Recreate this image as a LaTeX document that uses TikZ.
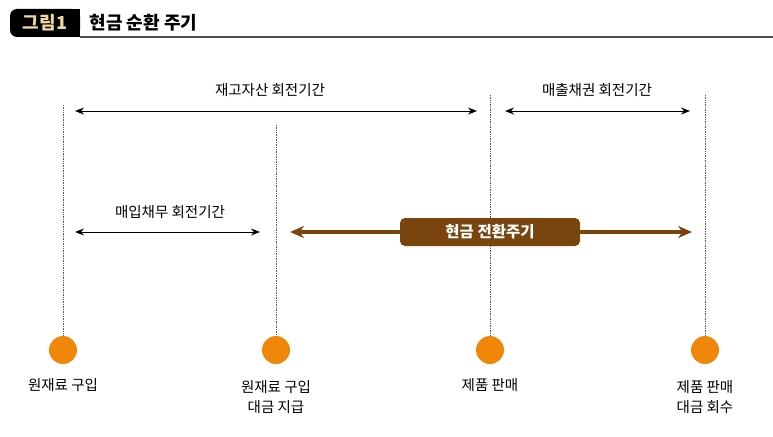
\documentclass[tikz,border=0pt]{standalone}
\usepackage{fontspec}
\setmainfont{Noto Sans CJK KR}
\usetikzlibrary{arrows.meta}
\definecolor{brn}{RGB}{122,68,14}
\definecolor{org}{RGB}{240,135,10}
\definecolor{tan}{RGB}{238,214,160}
\tikzset{vl/.style={densely dotted,gray!70!black,line width=0.7pt},
 ar/.style={{Stealth[length=9pt,width=7pt]}-{Stealth[length=9pt,width=7pt]},line width=1pt},
 lb/.style={font=\fontsize{14.5}{17}\selectfont},
 dot/.style={circle,fill=org,minimum size=28pt,inner sep=0}}
\begin{document}
\begin{tikzpicture}[x=1pt,y=-1pt]
\useasboundingbox (0,0) rectangle (773,436);
\fill[black,rounded corners=7pt] (10,9) rectangle (80,37);
\fill (70,9) rectangle (80,37);
\node[font=\bfseries\fontsize{18}{20}\selectfont,text=tan] (tag) at (45,23) {그림1};
\node[font=\bfseries\fontsize{18}{20}\selectfont,anchor=west] (title) at (86,23) {현금 순환 주기};
\draw[line width=1.2pt,gray!60!black] (80,37) -- (773,37);
\foreach \n/\x/\t in {a/63/105,b/276/125,c/490/95,d/705/95}{
 \coordinate (\n t) at (\x,\t);
 \node[dot] (\n) at (\x,350) {};
 \draw[vl] (\n t) -- (\n.north);}
\coordinate (i1) at (75,111); \coordinate (i2) at (477,111);
\draw[ar] (i1) -- (i2);
\node[lb] (il) at (270,90) {재고자산 회전기간};
\coordinate (r1) at (505,111); \coordinate (r2) at (690,111);
\draw[ar] (r1) -- (r2);
\node[lb] (rl) at (597,90) {매출채권 회전기간};
\coordinate (p1) at (75,232); \coordinate (p2) at (260,232);
\draw[ar] (p1) -- (p2);
\node[lb] (pl) at (170,212) {매입채무 회전기간};
\coordinate (c1) at (290,232); \coordinate (c2) at (692,232);
\draw[brn,line width=3.5pt,{Stealth[length=14pt,width=12pt]}-{Stealth[length=14pt,width=12pt]}] (c1) -- (c2);
\node[fill=brn,rounded corners=5pt,text=white,font=\bfseries\fontsize{15.5}{18}\selectfont,minimum width=180pt,minimum height=28pt] (cb) at (490,232) {현금 전환주기};
\node[lb] (la) at (63,385) {원재료 구입};
\node[lb,align=center] (lb2) at (276,397) {원재료 구입\\[3pt]대금 지급};
\node[lb] (lc) at (490,385) {제품 판매};
\node[lb,align=center] (ld) at (705,397) {제품 판매\\[3pt]대금 회수};
\end{tikzpicture}
\end{document}
